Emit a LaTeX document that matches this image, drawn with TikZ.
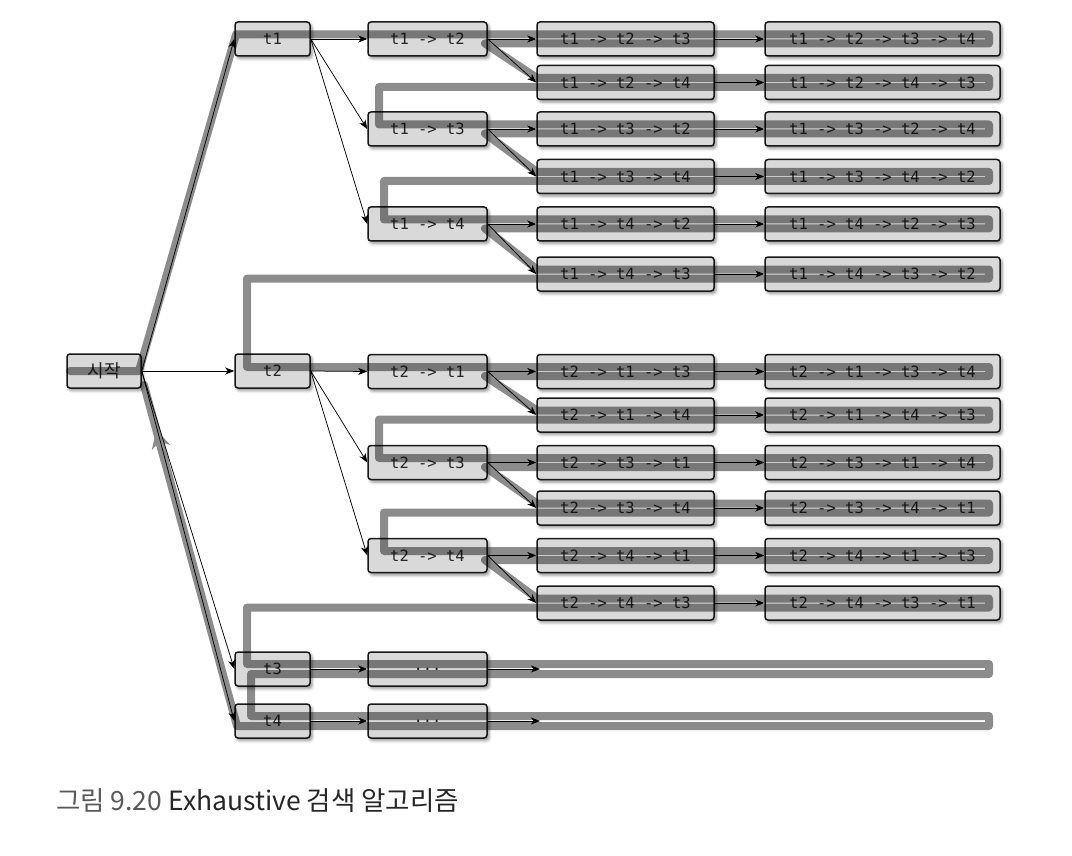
\documentclass[tikz,border=0pt]{standalone}
\usepackage{fontspec}
\setmonofont{DejaVu Sans Mono}
\newfontfamily\krfont{Noto Sans CJK KR}
\usetikzlibrary{arrows.meta,shadows.blur}
\tikzset{
  task/.style={draw=black!90,line width=1.5pt,rounded corners=3pt,fill=black!15,
    minimum height=34pt,inner sep=0pt,text=black!85,
    font=\ttfamily\fontsize{15.5}{18}\selectfont,
    blur shadow={shadow xshift=2pt,shadow yshift=-2.5pt,shadow blur radius=3pt,shadow opacity=45}},
  lvone/.style={task,minimum width=75pt},
  lvtwo/.style={task,minimum width=119pt},
  lvthree/.style={task,minimum width=177pt},
  lvfour/.style={task,minimum width=235pt},
  link/.style={-{Stealth[length=9pt,width=7pt,inset=2.5pt]},line width=0.75pt},
  trail/.style={draw=black!45,line width=8pt,line join=round,line cap=round,blend mode=multiply}
}

\begin{document}
\begin{tikzpicture}[x=1pt,y=-1pt]
    \useasboundingbox (0,0) rectangle (1072,856);

    % — Root
    \node[lvone,minimum width=74pt,font=\krfont\fontsize{18}{20}\selectfont] (start) at (104,371) {시작};

    % — First choice
    \node[lvone] (t1) at (272.5,39)  {t1};
    \node[lvone] (t2) at (272.5,371) {t2};
    \node[lvone] (t3) at (272.5,669) {t3};
    \node[lvone] (t4) at (272.5,721) {t4};

    % — Second choice
    \node[lvtwo] (t12) at (427.5,39)    {t1 -> t2};
    \node[lvtwo] (t13) at (427.5,129)   {t1 -> t3};
    \node[lvtwo] (t14) at (427.5,224)   {t1 -> t4};
    \node[lvtwo] (t21) at (427.5,371.5) {t2 -> t1};
    \node[lvtwo] (t23) at (427.5,462.5) {t2 -> t3};
    \node[lvtwo] (t24) at (427.5,555.5) {t2 -> t4};
    \node[lvtwo] (t3x) at (427.5,669)   {...};
    \node[lvtwo] (t4x) at (427.5,721)   {...};

    % — Third choice
    \node[lvthree] (t123) at (625.5,39)    {t1 -> t2 -> t3};
    \node[lvthree] (t124) at (625.5,82.5)  {t1 -> t2 -> t4};
    \node[lvthree] (t132) at (625.5,129)   {t1 -> t3 -> t2};
    \node[lvthree] (t134) at (625.5,176.5) {t1 -> t3 -> t4};
    \node[lvthree] (t142) at (625.5,224)   {t1 -> t4 -> t2};
    \node[lvthree] (t143) at (625.5,274)   {t1 -> t4 -> t3};
    \node[lvthree] (t213) at (625.5,371.5) {t2 -> t1 -> t3};
    \node[lvthree] (t214) at (625.5,415)   {t2 -> t1 -> t4};
    \node[lvthree] (t231) at (625.5,462.5) {t2 -> t3 -> t1};
    \node[lvthree] (t234) at (625.5,508)   {t2 -> t3 -> t4};
    \node[lvthree] (t241) at (625.5,555.5) {t2 -> t4 -> t1};
    \node[lvthree] (t243) at (625.5,603)   {t2 -> t4 -> t3};

    % — Full orders
    \node[lvfour] (t1234) at (882.5,39)    {t1 -> t2 -> t3 -> t4};
    \node[lvfour] (t1243) at (882.5,82.5)  {t1 -> t2 -> t4 -> t3};
    \node[lvfour] (t1324) at (882.5,129)   {t1 -> t3 -> t2 -> t4};
    \node[lvfour] (t1342) at (882.5,176.5) {t1 -> t3 -> t4 -> t2};
    \node[lvfour] (t1423) at (882.5,224)   {t1 -> t4 -> t2 -> t3};
    \node[lvfour] (t1432) at (882.5,274)   {t1 -> t4 -> t3 -> t2};
    \node[lvfour] (t2134) at (882.5,371.5) {t2 -> t1 -> t3 -> t4};
    \node[lvfour] (t2143) at (882.5,415)   {t2 -> t1 -> t4 -> t3};
    \node[lvfour] (t2314) at (882.5,462.5) {t2 -> t3 -> t1 -> t4};
    \node[lvfour] (t2341) at (882.5,508)   {t2 -> t3 -> t4 -> t1};
    \node[lvfour] (t2413) at (882.5,555.5) {t2 -> t4 -> t1 -> t3};
    \node[lvfour] (t2431) at (882.5,603)   {t2 -> t4 -> t3 -> t1};

    \coordinate (t3end) at (540,669);
    \coordinate (t4end) at (540,721);

    % — Search order (out on the upper track, back on the lower one)
    \draw[trail] (70,371) -- (139,371) -- (236,34.5) -- (989,34.5) -- (989,43.5)
      -- (485,43.5) -- (537,78) -- (989,78) -- (989,87) -- (379,87) -- (379,124.5)
      -- (989,124.5) -- (989,133.5) -- (485,133.5) -- (537,172) -- (989,172) -- (989,181)
      -- (384,181) -- (384,219.5) -- (989,219.5) -- (989,228.5) -- (485,228.5)
      -- (537,269.5) -- (989,269.5) -- (989,278.5) -- (247,278.5) -- (247,367)
      -- (989,367) -- (989,376) -- (485,376) -- (537,410.5) -- (989,410.5) -- (989,419.5)
      -- (379,419.5) -- (379,458) -- (989,458) -- (989,467) -- (485,467) -- (537,503.5)
      -- (989,503.5) -- (989,512.5) -- (384,512.5) -- (384,551) -- (989,551) -- (989,560)
      -- (485,560) -- (537,598.5) -- (989,598.5) -- (989,607.5) -- (247,607.5)
      -- (247,664) -- (989,664) -- (989,674) -- (251,674) -- (251,716) -- (989,716)
      -- (989,726) -- (237,726) -- (144,385);
    \draw[draw=black!45,line width=8pt,-{Stealth[length=18pt,width=19pt,inset=6pt]}]
      (165.3,463) -- (156.3,430);

    % — Links from the root
    \draw[link] (start.east) -- (t1.west);
    \draw[link] (start.east) -- (t2.west);
    \draw[link] (start.east) -- (t3.west);
    \draw[link] (start.east) -- (t4.west);

    % — Links of the first branch
    \draw[link] (t1.east) -- (t12.west);
    \draw[link] (t1.east) -- (t13.west);
    \draw[link] (t1.east) -- (t14.west);
    \draw[link] (t12.east) -- (t123.west);
    \draw[link] (t12.east) -- (t124.west);
    \draw[link] (t13.east) -- (t132.west);
    \draw[link] (t13.east) -- (t134.west);
    \draw[link] (t14.east) -- (t142.west);
    \draw[link] (t14.east) -- (t143.west);
    \draw[link] (t123) -- (t1234);
    \draw[link] (t124) -- (t1243);
    \draw[link] (t132) -- (t1324);
    \draw[link] (t134) -- (t1342);
    \draw[link] (t142) -- (t1423);
    \draw[link] (t143) -- (t1432);

    % — Links of the second branch
    \draw[link] (t2.east) -- (t21.west);
    \draw[link] (t2.east) -- (t23.west);
    \draw[link] (t2.east) -- (t24.west);
    \draw[link] (t21.east) -- (t213.west);
    \draw[link] (t21.east) -- (t214.west);
    \draw[link] (t23.east) -- (t231.west);
    \draw[link] (t23.east) -- (t234.west);
    \draw[link] (t24.east) -- (t241.west);
    \draw[link] (t24.east) -- (t243.west);
    \draw[link] (t213) -- (t2134);
    \draw[link] (t214) -- (t2143);
    \draw[link] (t231) -- (t2314);
    \draw[link] (t234) -- (t2341);
    \draw[link] (t241) -- (t2413);
    \draw[link] (t243) -- (t2431);

    % — Remaining branches
    \draw[link] (t3) -- (t3x);
    \draw[link] (t3x) -- (t3end);
    \draw[link] (t4) -- (t4x);
    \draw[link] (t4x) -- (t4end);

    % — Caption
    \node[anchor=base west,inner sep=0pt,font=\krfont\fontsize{26.5}{30}\selectfont,text=black!85] (caption)
      at (56,810) {\textcolor{black!65}{그림 9.20} Exhaustive 검색 알고리즘};
\end{tikzpicture}
\end{document}
